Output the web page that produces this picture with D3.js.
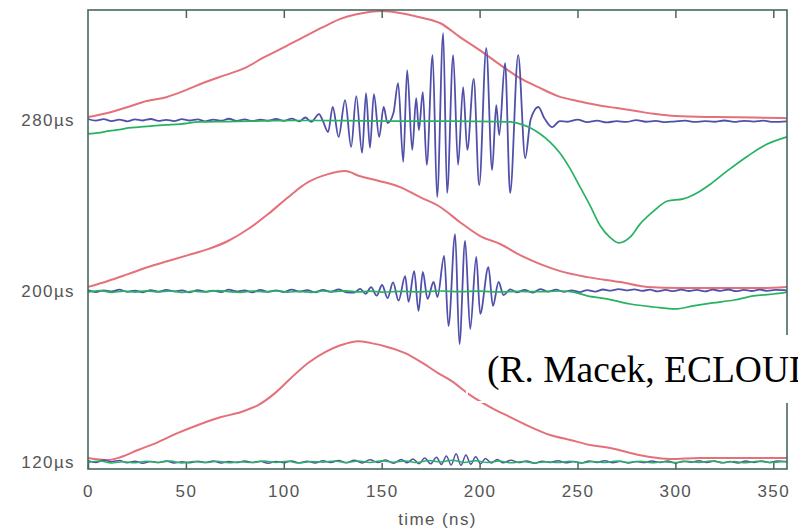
<html>
<head>
<meta charset="utf-8">
<script src="https://cdn.jsdelivr.net/npm/d3@7"></script>
<style>
  body { margin: 0; background: #fff; }
  .lbl { font-family: "Liberation Sans", Arial, sans-serif; font-size: 17px; fill: #555; letter-spacing: 1.4px; }
</style>
</head>
<body>
<div id="chart"></div>
<script>

// x ticks (ns) and the three macropulse times (rows)
var xTicks = [0, 50, 100, 150, 200, 250, 300, 350];
var rowBase = [120, 200, 280];
var rowUnit = "µs";
var note = "(R. Macek, ECLOUD'04)";

// traces: [time ns, amplitude above the row baseline]
var red280 = [[0,1.4],[10,3.3],[20,6],[30,8.9],[40,10.7],[50,14],[60,17.8],[70,21],[80,24.3],[90,29.4],[100,34],[110,38.8],[120,43.5],[130,47.7],[140,50],[150,51],[160,50],[170,48],[180,45.3],[190,38.8],[200,32.7],[210,26.2],[220,20],[230,15.4],[240,11.2],[250,8.9],[260,7],[270,5.6],[280,4.2],[290,2.8],[300,1.9],[320,1.4],[340,1.2],[357,0.9]];

var blue280 = [[0,0.5],[4,-0.3],[8,0.4],[12,-0.5],[16,0.2],[20,-0.6],[24,0.3],[28,-0.2],[32,0.5],[36,-0.4],[40,0.1],[44,-0.5],[48,0.4],[52,-0.2],[56,0.3],[60,-0.6],[64,0.2],[68,-0.3],[72,0.6],[76,-0.4],[80,0.3],[84,-0.5],[88,0.2],[92,-0.3],[96,0.5],[100,-0.4],[104,0.7],[108,-0.6],[111,1.2],[114,-0.8],[118,2.8],[120,-0.5],[122.6,-5.6],[125,6.1],[128,-7.9],[131.3,9.3],[134.4,-12.6],[137,11.2],[140,-15.4],[142,12.6],[144,-13],[146,12.1],[148.7,-7.9],[151,6.1],[153,-1.4],[156,3.3],[158.4,17.3],[161,-19.6],[163,23.4],[165.6,-14],[167.6,10.3],[169,-4.7],[171,13.1],[173,-21],[176,30.4],[178.3,-36],[181.4,40.7],[183.4,-34.1],[186.5,30.4],[189,-21],[191.6,15.4],[193.7,-14],[197,19.2],[199.8,-30.4],[203.4,33.6],[206.4,-23.4],[208.5,7],[210,-7],[213,26.6],[215.6,-34.1],[219.7,30.4],[223.3,-17.8],[226,0],[230,6.1],[233,1],[237,-3.3],[241,-0.5],[245,-0.8],[250,0.2],[255,-1],[260,-0.3],[265,-1.1],[270,-0.5],[275,-0.9],[280,0],[285,-0.8],[290,-0.4],[295,-1],[300,-0.6],[305,-0.3],[310,-0.9],[315,-0.5],[320,-0.8],[325,-0.2],[330,-0.9],[335,-0.4],[340,-0.7],[345,-0.3],[350,-0.9],[357,-0.6]];

var green280 = [[0,-6.5],[5,-6],[11,-5.1],[16,-4.5],[21,-3.7],[26,-3.3],[32,-2.8],[40,-2.3],[47,-1.9],[57,-0.9],[70,-0.7],[83,-0.5],[95,-0.3],[108,-0.2],[130,-0.3],[159,-0.5],[185,-0.5],[210,-0.7],[216,-0.9],[221,-1.9],[226,-3.7],[231,-6.5],[236,-10.3],[241,-15.4],[246,-22.4],[251,-30.8],[256.5,-40.2],[261.6,-49.5],[266.7,-55],[271,-57.5],[277,-54.7],[282,-48.6],[289,-42.5],[296,-37.9],[304,-36.9],[311,-34.1],[318,-29.9],[326.5,-23.8],[337,-16.8],[345,-12.1],[357,-7.9]];

var red200 = [[0,1.9],[10.2,4.7],[20.4,7.9],[30.7,11.2],[40.9,14],[51.1,16.8],[61.3,19.6],[71.5,23.4],[81.8,29],[92,36],[102.2,43.9],[112.4,50.9],[122.6,54.7],[131.3,56.1],[139,53.7],[149.2,51.4],[159.4,48.6],[169.6,43.9],[179.9,39.3],[190,32.2],[200.3,25.7],[210.5,22],[220.7,16.8],[231,12.6],[241.2,9.3],[255,6.5],[271.8,4.2],[285.6,1.9],[302.5,1.4],[323,1.4],[343.4,1.4],[357,1.9]];

var blue200 = [[0,0.4],[4,-0.5],[8,0.3],[12,-0.2],[16,0.6],[20,-0.4],[24,0.2],[28,-0.6],[32,0.4],[36,-0.3],[40,0.5],[44,-0.2],[48,0.3],[52,-0.6],[56,0.4],[60,-0.3],[64,0.2],[68,-0.5],[72,0.6],[76,-0.2],[80,0.3],[84,-0.6],[88,0.5],[92,-0.4],[96,0.3],[100,-0.5],[104,0.6],[108,-0.3],[112,0.4],[116,-0.6],[120,0.5],[124,-0.4],[128,0.7],[132,-0.6],[136,-0.7],[139,1],[141.8,-1.3],[144.6,1.8],[147.4,-2.2],[150.2,2.8],[153,-3.3],[155.8,4],[158.6,-4.5],[162,7],[163.7,-5.1],[166.6,9.3],[168.8,-9.3],[171,8.9],[173.4,-3.7],[176.5,4.2],[178.5,-2.8],[181.9,16.4],[184.1,-16.4],[187.5,26.6],[189.7,-24.8],[192.6,23.4],[195.2,-17.8],[198.3,15.9],[200.3,-10.7],[204.5,11.2],[206.8,-7],[209.7,4.2],[212.2,-1.9],[215.6,0.8],[219,-0.6],[223,0.5],[227,-0.8],[231,0.9],[235,-0.3],[239,0.6],[243,-0.4],[247,0.3],[251,-0.5],[255,0.4],[259,-0.3],[263,0.7],[267,0.2],[271,0.9],[275,0.3],[279,0.8],[283,0.1],[287,0.6],[291,-0.2],[295,0.5],[299,-0.1],[303,0.6],[307,0],[311,0.5],[315,-0.2],[319,0.6],[323,0.1],[327,0.7],[331,-0.1],[335,0.5],[339,0],[343,0.6],[347,0.1],[351,0.5],[357,0.3]];

var green200 = [[0,-0.5],[6,0.2],[12,-0.6],[18,-0.1],[24,-0.5],[30,0.1],[36,-0.4],[42,0],[48,-0.6],[54,-0.1],[60,-0.4],[66,0.2],[72,-0.3],[78,-0.6],[84,0],[90,-0.4],[96,0.1],[102,-0.5],[108,-0.2],[114,-0.6],[120,0],[126,-0.3],[132,0.1],[138,-0.4],[144,-0.1],[150,-0.5],[160,-0.2],[170,-0.4],[180,0],[190,-0.3],[200,-0.1],[210,-0.4],[220,-0.2],[230,-0.3],[241,0],[248,-0.5],[255,-2.3],[265,-3.7],[277,-6.1],[289,-7.5],[300,-8.4],[309,-7],[319,-5.6],[330,-4.2],[340,-2.3],[350,-1.4],[357,-0.5]];

var red120 = [[0,1.9],[10.2,0.9],[16.9,2.3],[25.5,5.6],[35.8,9.3],[46,13.6],[56.2,17.3],[68,21],[78.2,23.4],[86.9,26.6],[95.5,32.2],[103.7,39.3],[112.4,46.3],[121.1,51.4],[129.3,54.7],[138,56.5],[144.6,55.6],[153.3,53.7],[162,50.9],[170.2,46.7],[178.8,41.6],[185,38.3],[195.2,31.3],[205.4,25.7],[215.6,21],[225.9,16.4],[236,12.6],[246.3,10.3],[256.5,7.9],[266.7,6.5],[277,4.2],[287,2.3],[297.4,1.4],[312.7,1.9],[333,1.9],[357,1.9]];

var blue120 = [[0,0.6],[4,-0.2],[8,0.9],[12,0.1],[16,0.7],[20,-0.4],[24,0.3],[28,-0.6],[32,0.2],[36,-0.3],[40,0.4],[44,-0.5],[48,0.1],[52,-0.4],[56,0.3],[60,-0.2],[64,0.4],[68,-0.5],[72,0.2],[76,-0.3],[80,0.5],[84,-0.2],[88,0.3],[92,-0.6],[96,0.2],[100,-0.3],[104,0.5],[108,-0.4],[112,0.3],[116,-0.5],[120,0.6],[124,-0.3],[128,0.7],[132,-0.4],[136,0.8],[140,-0.5],[144,1],[148,-0.3],[152,0.9],[156,-0.6],[160,1.2],[163,-0.4],[166,1.4],[169,-0.8],[172,1.8],[175,-0.9],[178,2.2],[180.5,-1.2],[183,2.8],[185.5,-1.4],[188,3.8],[190.5,-1.6],[193,3.2],[195.5,-1.1],[198,2.4],[200.5,-0.8],[203,1.6],[206,-0.5],[209,1.2],[212,-0.4],[216,0.8],[220,-0.3],[224,0.5],[228,-0.6],[232,0.3],[236,-0.2],[240,0.6],[244,-0.4],[248,0.2],[252,-0.5],[256,0.4],[260,-0.2],[264,0.6],[268,-0.4],[272,0.3],[276,-0.5],[280,0.2],[284,-0.3],[288,0.5],[292,-0.2],[296,0.4],[300,-0.5],[304,0.3],[308,-0.1],[312,0.6],[316,-0.3],[320,0.4],[324,-0.4],[328,0.2],[332,-0.5],[336,0.5],[340,-0.2],[344,0.4],[348,-0.3],[352,0.5],[357,0.1]];

var green120 = [[0,-0.3],[6,0.4],[12,-0.5],[18,0.1],[24,-0.4],[30,0.3],[36,-0.2],[42,0.4],[48,-0.5],[54,0.2],[60,-0.3],[66,0.3],[72,-0.4],[78,0.1],[84,-0.3],[90,0.4],[96,-0.2],[102,0.3],[108,-0.5],[114,0.2],[120,-0.1],[126,0.5],[132,-0.3],[138,0.4],[144,-0.2],[150,0.6],[156,-0.1],[162,0.5],[168,-0.3],[174,0.7],[180,0],[186,0.8],[192,-0.2],[198,0.6],[204,-0.3],[210,0.4],[216,-0.4],[222,0.2],[228,-0.5],[234,0.1],[240,-0.3],[246,0.3],[252,-0.4],[258,0.2],[264,-0.3],[270,0.4],[276,-0.2],[282,0.3],[288,-0.4],[294,0.1],[300,-0.3],[306,0.3],[312,-0.2],[318,0.4],[324,-0.3],[330,0.2],[336,-0.4],[342,0.3],[348,-0.2],[357,0.2]];

var W = 798, H = 531,
    m = {left: 88, top: 10, right: 11, bottom: 62};

var svg = d3.select("#chart").append("svg").attr("width", W).attr("height", H);

var x = d3.scaleLinear().domain([0, 357]).range([m.left, W - m.right]);
var y = d3.scaleLinear().domain([116.7, 331.5]).range([H - m.bottom, m.top]);

// draw one trace on its row
function trace(data, base, color, w) {
  var line = d3.line()
    .x(function(d) { return x(d[0]); })
    .y(function(d) { return y(base + d[1]); })
    .curve(d3.curveMonotoneX);
  svg.append("path").datum(data)
    .attr("d", line)
    .attr("fill", "none")
    .attr("stroke", color)
    .attr("stroke-width", w)
    .attr("stroke-linejoin", "round");
}

var RED = "#e4707a", BLUE = "#5050aa", GREEN = "#27b262";

trace(red280, 280, RED, 2);
trace(red200, 200, RED, 2);
trace(red120, 120, RED, 2);
trace(blue280, 280, BLUE, 1.8);
trace(blue200, 200, BLUE, 1.8);
trace(blue120, 120, BLUE, 1.5);
trace(green280, 280, GREEN, 1.7);
trace(green200, 200, GREEN, 1.7);
trace(green120, 120, GREEN, 1.5);

// frame
var FRAME = "#46675f";
svg.append("rect")
  .attr("x", x(0)).attr("y", y(331.5))
  .attr("width", x(357) - x(0)).attr("height", y(116.7) - y(331.5))
  .attr("fill", "none").attr("stroke", FRAME).attr("stroke-width", 1.6);

// bottom axis, ticks pointing inwards
var xb = svg.append("g")
  .attr("transform", "translate(0," + y(116.7) + ")")
  .call(d3.axisBottom(x).tickValues(xTicks).tickSizeInner(-6).tickSizeOuter(0).tickPadding(16));
xb.select(".domain").remove();
xb.selectAll("line").attr("stroke", FRAME).attr("stroke-width", 1.5);
xb.selectAll("text").attr("class", "lbl").attr("fill", null);

// top ticks
var xt = svg.append("g")
  .attr("transform", "translate(0," + y(331.5) + ")")
  .call(d3.axisTop(x).tickValues(xTicks.slice(1)).tickSizeInner(-8).tickSizeOuter(0).tickFormat(""));
xt.select(".domain").remove();
xt.selectAll("line").attr("stroke", FRAME).attr("stroke-width", 1.5);

// row labels
var yl = svg.append("g")
  .attr("transform", "translate(" + x(0) + ",0)")
  .call(d3.axisLeft(y).tickValues(rowBase).tickSize(0).tickPadding(13)
    .tickFormat(function(d) { return d + rowUnit; }));
yl.select(".domain").remove();
yl.selectAll("text").attr("class", "lbl").attr("fill", null);

svg.append("text").attr("class", "lbl")
  .attr("x", (x(0) + x(357)) / 2).attr("y", 525)
  .attr("text-anchor", "middle")
  .text("time (ns)");

// pasted citation box, runs off the right edge as in the source slide
svg.append("rect")
  .attr("x", 781).attr("y", 337).attr("width", 17).attr("height", 64)
  .attr("fill", "#fff");
svg.append("rect")
  .attr("x", 467).attr("y", 336).attr("width", 345).attr("height", 66)
  .attr("fill", "none").attr("stroke", "#fff").attr("stroke-width", 2);
svg.append("text")
  .attr("x", 487).attr("y", 382)
  .attr("font-family", "'Liberation Serif', 'Times New Roman', serif")
  .attr("font-size", 37.5)
  .attr("fill", "#000")
  .text(note);

</script>
</html>
